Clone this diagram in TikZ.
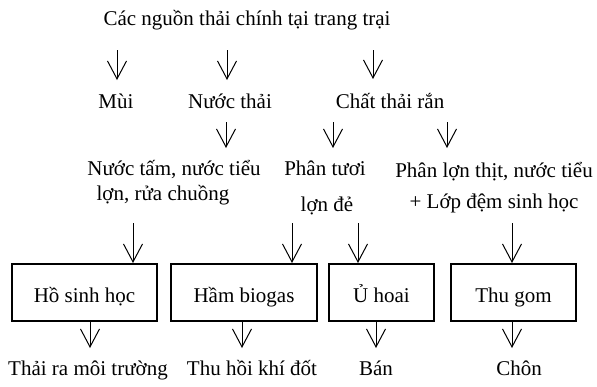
\documentclass[tikz,border=0pt]{standalone}
\usepackage{fontspec}
\setmainfont{Liberation Serif}
\usetikzlibrary{arrows.meta}
\begin{document}
\begin{tikzpicture}[x=1pt,y=-1pt,
  font=\fontsize{21}{26}\selectfont,
  arr/.style={line width=1pt,-{Straight Barb[length=18pt,width=19pt,line width=1pt]}},
  box/.style={draw,line width=1.6pt},
  lbl/.style={inner sep=0pt,anchor=base}]
\useasboundingbox (0,0) rectangle (597,386);
% texts
\node[lbl] (title) at (247,25) {Các nguồn thải chính tại trang trại};
\node[lbl] (mui) at (116,108) {Mùi};
\node[lbl] (nuoc) at (230,108) {Nước thải};
\node[lbl] (ran) at (390,108) {Chất thải rắn};
\node[lbl] (tam1) at (174,175) {Nước tấm, nước tiểu};
\node[lbl] (tam2) at (163,200) {lợn, rửa chuồng};
\node[lbl] (tuoi1) at (325,175) {Phân tươi};
\node[lbl] (tuoi2) at (327,211) {lợn đẻ};
\node[lbl] (thit1) at (494,177) {Phân lợn thịt, nước tiểu};
\node[lbl] (thit2) at (494,208) {+ Lớp đệm sinh học};
% boxes
\draw[box] (12,264) rectangle (157,321);
\draw[box] (171,264) rectangle (317,321);
\draw[box] (329,264) rectangle (434,321);
\draw[box] (451,264) rectangle (576,321);
\node[lbl] (ho) at (84.5,302) {Hồ sinh học};
\node[lbl] (ham) at (244,302) {Hầm biogas};
\node[lbl] (u) at (381.5,302) {Ủ hoai};
\node[lbl] (gom) at (513.5,302) {Thu gom};
% outputs
\node[lbl] (o1) at (88,375) {Thải ra môi trường};
\node[lbl] (o2) at (252,375) {Thu hồi khí đốt};
\node[lbl] (o3) at (376,375) {Bán};
\node[lbl] (o4) at (519,375) {Chôn};
% arrows
\draw[arr] (117,50) -- (117,80);
\draw[arr] (227,50) -- (227,80);
\draw[arr] (373,50) -- (373,79);
\draw[arr] (226,122) -- (226,148);
\draw[arr] (333,122) -- (333,148);
\draw[arr] (447,122) -- (447,148);
\draw[arr] (133,223) -- (133,263);
\draw[arr] (292,223) -- (292,263);
\draw[arr] (358,223) -- (358,263);
\draw[arr] (512,223) -- (512,263);
\draw[arr] (90,322) -- (90,348);
\draw[arr] (242,322) -- (242,348);
\draw[arr] (376,322) -- (376,348);
\draw[arr] (512,322) -- (512,348);
\end{tikzpicture}
\end{document}
